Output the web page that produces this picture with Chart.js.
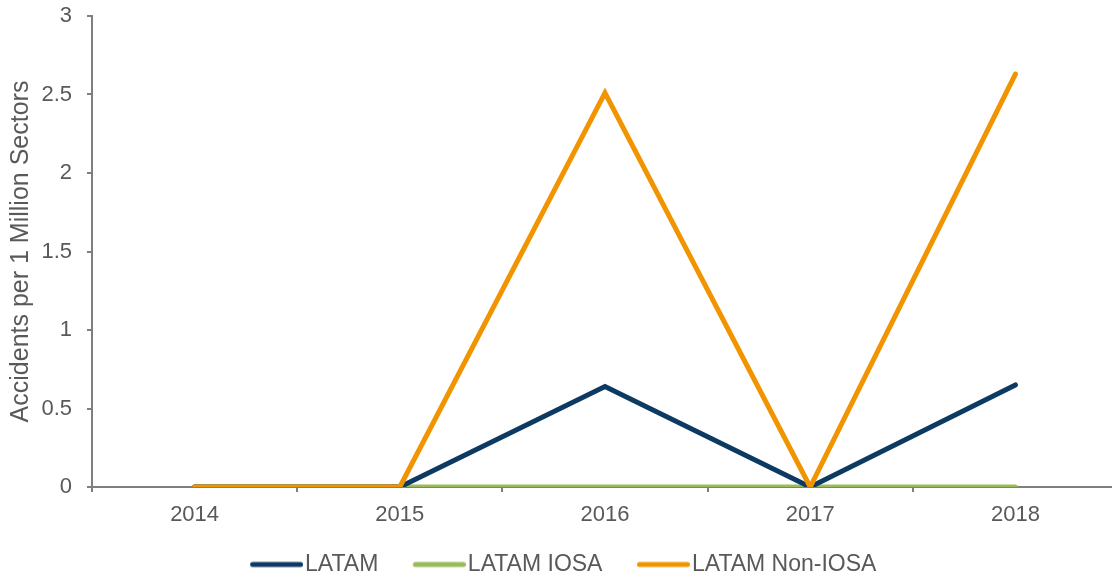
<!DOCTYPE html>
<html>
<head>
<meta charset="utf-8">
<script src="https://cdn.jsdelivr.net/npm/chart.js@4/dist/chart.umd.min.js"></script>
<style>
  html, body { margin: 0; padding: 0; background: #fff; overflow: hidden; }
  #wrap { width: 1118px; height: 575px; }
</style>
</head>
<body>
<div id="wrap"><canvas id="grafico" width="1118" height="575"></canvas></div>
<script>
// datos
const anios = ["2014", "2015", "2016", "2017", "2018"];
const latam = [0, 0, 0.64, 0, 0.65];
const latamIosa = [0, 0, 0, 0, 0];
const latamNoIosa = [0, 0, 2.51, 0, 2.63];
const ticksY = [0, 0.5, 1, 1.5, 2, 2.5, 3];

const gris = "#7f7f7f";
const texto = "#595959";
const fuente = "Liberation Sans";

const tamLeyenda = 23;
const anchoCaja = 52;

const ctx = document.getElementById("grafico").getContext("2d");

// marca de leyenda: linea de 53px con extremos redondeados,
// terminando 2px antes del texto
function marcaLinea(color) {
  const finLinea = anchoCaja + tamLeyenda / 2 - 2;
  const ancho = 2 * (finLinea - anchoCaja / 2);
  const izq = anchoCaja / 2 - ancho / 2;
  const c = document.createElement("canvas");
  c.width = Math.round(ancho);
  c.height = 10;
  const g = c.getContext("2d");
  g.strokeStyle = color;
  g.lineWidth = 5;
  g.lineCap = "round";
  g.beginPath();
  g.moveTo(finLinea - 53 + 2.5 - izq, 5);
  g.lineTo(finLinea - 2.5 - izq, 5);
  g.stroke();
  return c;
}

function serie(label, data, color, orden) {
  return {
    label,
    data,
    borderColor: color,
    backgroundColor: color,
    borderWidth: 5,
    borderCapStyle: "round",
    pointRadius: 0,
    tension: 0,
    fill: false,
    order: orden
  };
}

new Chart(ctx, {
  type: "line",
  data: {
    labels: anios,
    datasets: [
      serie("LATAM", latam, "#0d3a62", 1),
      serie("LATAM IOSA", latamIosa, "#9bbb59", 2),
      serie("LATAM Non-IOSA", latamNoIosa, "#f29400", 0)
    ]
  },
  options: {
    responsive: false,
    animation: false,
    layout: { padding: { top: 16, right: 0, left: 0, bottom: -11 } },
    plugins: {
      tooltip: { enabled: false },
      legend: {
        position: "bottom",
        labels: {
          color: texto,
          font: { family: fuente, size: tamLeyenda },
          usePointStyle: true,
          pointStyleWidth: anchoCaja,
          boxHeight: 10,
          padding: 26,
          generateLabels: chart => chart.data.datasets.map((d, i) => ({
            text: d.label,
            fillStyle: d.borderColor,
            strokeStyle: d.borderColor,
            lineWidth: 0,
            pointStyle: marcaLinea(d.borderColor),
            datasetIndex: i,
            fontColor: texto
          }))
        }
      }
    },
    scales: {
      x: {
        offset: true,
        afterFit: axis => { axis.height = 40; },
        grid: { offset: true, drawOnChartArea: false, drawTicks: true, tickLength: 5, color: gris, lineWidth: 2 },
        border: { color: gris, width: 2 },
        ticks: { color: texto, font: { family: fuente, size: 22 }, padding: 10 }
      },
      y: {
        min: 0,
        max: 3,
        afterBuildTicks: axis => { axis.ticks = ticksY.map(v => ({ value: v })); },
        afterFit: axis => { axis.width = 92; axis.paddingTop = 0; },
        grid: { drawOnChartArea: false, drawTicks: true, tickLength: 5, color: gris, lineWidth: 2 },
        border: { color: gris, width: 2 },
        ticks: {
          color: texto,
          font: { family: fuente, size: 22 },
          padding: 15,
          callback: v => String(v)
        },
        title: {
          display: true,
          text: "Accidents per 1 Million Sectors",
          color: texto,
          font: { family: fuente, size: 25 },
          padding: { top: 6, bottom: 0 }
        }
      }
    }
  }
});
</script>
</body>
</html>
